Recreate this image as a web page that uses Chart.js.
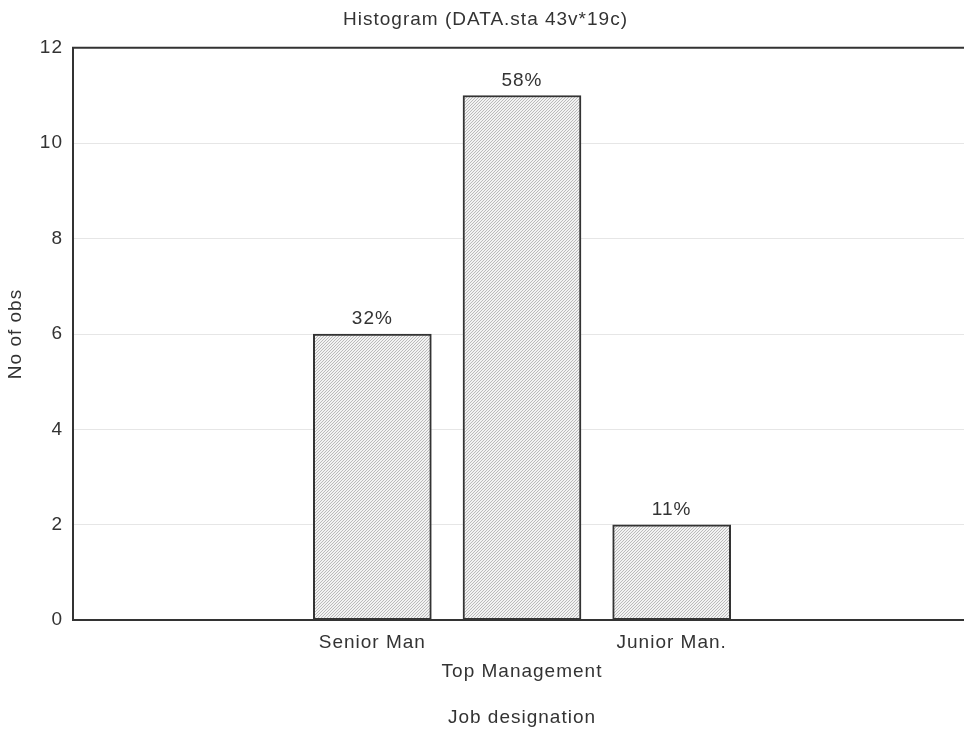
<!DOCTYPE html>
<html>
<head>
<meta charset="utf-8">
<script src="https://cdn.jsdelivr.net/npm/chart.js@4.4.1/dist/chart.umd.min.js"></script>
<style>
  html, body { margin: 0; padding: 0; background: #fff; overflow: hidden; }
  #wrap { width: 980px; height: 729px; }
</style>
</head>
<body>
<div id="wrap"><canvas id="grafica"></canvas></div>
<script>
const categorias = ['', '', 'Senior Man', ['', 'Top Management'], 'Junior Man.', '', ''];
const numObs = [null, null, 6, 11, 2, null, null];
const porcentajes = ['', '', '32%', '58%', '11%', '', ''];
const ticksY = [0, 2, 4, 6, 8, 10, 12];

const colorTexto = '#333333';
const fuente = '"Liberation Sans", Arial, sans-serif';

// trama rayada para las barras
function crearTrama() {
    const c = document.createElement('canvas');
    c.width = 3;
    c.height = 3;
    const g = c.getContext('2d');
    g.fillStyle = '#f2f2f2';
    g.fillRect(0, 0, 3, 3);
    g.fillStyle = '#bababa';
    g.fillRect(0, 2, 1, 1);
    g.fillRect(1, 1, 1, 1);
    g.fillRect(2, 0, 1, 1);
    return g.createPattern(c, 'repeat');
}

// el texto escaneado tiene las letras un poco separadas
const espaciado = {
    id: 'espaciado',
    beforeUpdate(chart) { chart.ctx.letterSpacing = '1px'; },
    beforeDraw(chart) { chart.ctx.letterSpacing = '1px'; }
};

// etiquetas de porcentaje encima de cada barra
const etiquetasPct = {
    id: 'etiquetasPct',
    afterDatasetsDraw(chart) {
        const ctx = chart.ctx;
        const meta = chart.getDatasetMeta(0);
        ctx.save();
        ctx.font = '19px ' + fuente;
        ctx.fillStyle = colorTexto;
        ctx.textAlign = 'center';
        ctx.textBaseline = 'middle';
        meta.data.forEach(function (barra, i) {
            if (numObs[i] == null) return;
            ctx.fillText(porcentajes[i], barra.x, barra.y - 15);
        });
        ctx.restore();
    }
};

// linea superior del marco
const marcoSuperior = {
    id: 'marcoSuperior',
    afterDraw(chart) {
        const a = chart.chartArea;
        const ctx = chart.ctx;
        ctx.save();
        ctx.strokeStyle = colorTexto;
        ctx.lineWidth = 2;
        ctx.beginPath();
        ctx.moveTo(a.left - 1, a.top);
        ctx.lineTo(a.right, a.top);
        ctx.stroke();
        ctx.restore();
    }
};

const $Lienzo = document.getElementById('grafica');

new Chart($Lienzo, {
    type: 'bar',
    data: {
        labels: categorias,
        datasets: [{
            label: 'No of obs',
            data: numObs,
            backgroundColor: crearTrama(),
            borderColor: colorTexto,
            borderWidth: 2,
            borderSkipped: false,
            barThickness: 118
        }]
    },
    options: {
        responsive: true,
        maintainAspectRatio: false,
        animation: false,
        layout: { padding: { left: 0, right: 9, top: 0, bottom: 0 } },
        plugins: {
            legend: { display: false },
            tooltip: { enabled: false },
            title: {
                display: true,
                text: 'Histogram (DATA.sta 43v*19c)',
                color: colorTexto,
                font: { family: fuente, size: 19, weight: 'normal' },
                padding: { top: 8, bottom: 17 }
            }
        },
        scales: {
            x: {
                offset: false,
                grid: { display: false, drawTicks: false },
                border: { display: true, color: colorTexto, width: 2 },
                ticks: {
                    color: colorTexto,
                    maxRotation: 0,
                    autoSkip: false,
                    padding: 8.5,
                    font: { family: fuente, size: 19, lineHeight: '29px' }
                },
                title: {
                    display: true,
                    text: 'Job designation',
                    color: colorTexto,
                    font: { family: fuente, size: 19 },
                    padding: { top: 11, bottom: 0 }
                }
            },
            y: {
                min: 0,
                max: 12,
                afterBuildTicks(scale) {
                    scale.ticks = ticksY.map(v => ({ value: v }));
                },
                afterFit(scale) {
                    scale.width = 73;
                },
                grid: {
                    color: '#e6e6e6',
                    drawTicks: false
                },
                border: { display: true, color: colorTexto, width: 2, dash: [] },
                ticks: {
                    color: colorTexto,
                    padding: 10,
                    font: { family: fuente, size: 19 }
                },
                title: {
                    display: true,
                    text: 'No of obs',
                    color: colorTexto,
                    font: { family: fuente, size: 19 },
                    padding: { top: 4, bottom: 4 }
                }
            }
        }
    },
    plugins: [espaciado, etiquetasPct, marcoSuperior]
});
</script>
</body>
</html>
